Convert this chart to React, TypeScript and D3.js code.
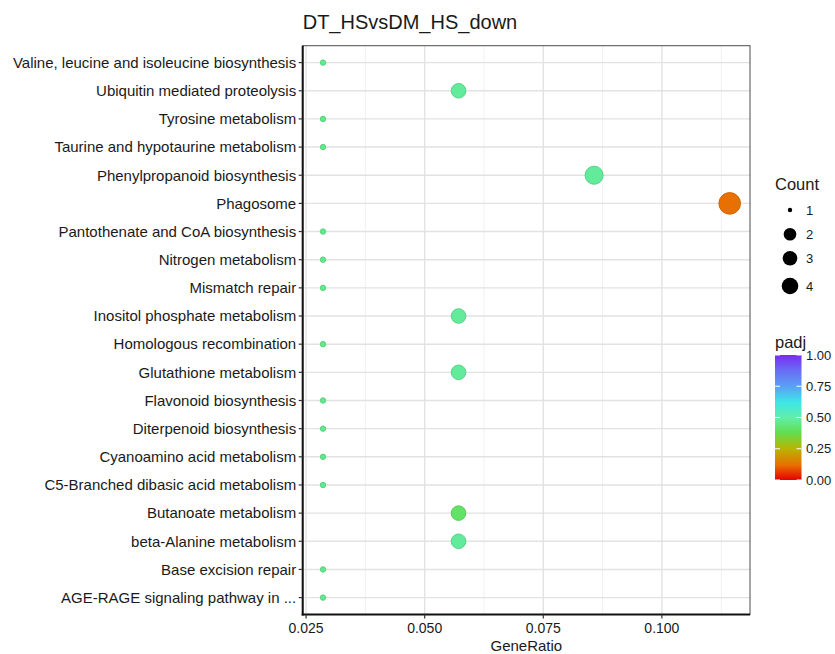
import React from "react";
import * as d3 from "d3";

const pathways = [
  "Valine, leucine and isoleucine biosynthesis",
  "Ubiquitin mediated proteolysis",
  "Tyrosine metabolism",
  "Taurine and hypotaurine metabolism",
  "Phenylpropanoid biosynthesis",
  "Phagosome",
  "Pantothenate and CoA biosynthesis",
  "Nitrogen metabolism",
  "Mismatch repair",
  "Inositol phosphate metabolism",
  "Homologous recombination",
  "Glutathione metabolism",
  "Flavonoid biosynthesis",
  "Diterpenoid biosynthesis",
  "Cyanoamino acid metabolism",
  "C5-Branched dibasic acid metabolism",
  "Butanoate metabolism",
  "beta-Alanine metabolism",
  "Base excision repair",
  "AGE-RAGE signaling pathway in ...",
];
const counts = [1, 2, 1, 1, 3, 4, 1, 1, 1, 2, 1, 2, 1, 1, 1, 1, 2, 2, 1, 1];
const geneRatio = [
  0.02857, 0.05714, 0.02857, 0.02857, 0.08571, 0.11429, 0.02857, 0.02857, 0.02857, 0.05714,
  0.02857, 0.05714, 0.02857, 0.02857, 0.02857, 0.02857, 0.05714, 0.05714, 0.02857, 0.02857,
];
const padj = [
  0.46, 0.48, 0.46, 0.46, 0.48, 0.12, 0.46, 0.46, 0.46, 0.48,
  0.46, 0.48, 0.46, 0.46, 0.46, 0.46, 0.41, 0.48, 0.46, 0.46,
];
const xTicks = [0.025, 0.05, 0.075, 0.1];
const xMinor = [0.0375, 0.0625, 0.0875, 0.1125];
const countLegend = [1, 2, 3, 4];
const padjTicks = [0, 0.25, 0.5, 0.75, 1];
const colorStops = [0, 0.12, 0.25, 0.38, 0.5, 0.62, 0.75, 0.88, 1];
const colorValues = [
  "#E60000", "#E87000", "#B8B400", "#62DE50", "#62EEAA", "#3EE6E6", "#5AA0F5", "#6A6AF5", "#7A2CF5",
];

const FONT = "'Liberation Sans', Arial, Helvetica, sans-serif";

export default function App() {
  const W = 835, H = 654;
  const left = 302.7, right = 750, top = 45.7, bottom = 614.5;

  const x = d3.scaleLinear().domain([0.02429, 0.11857]).range([left, right]);
  const yBand = d3.scalePoint<string>().domain(pathways).range([top, bottom]).padding(0.6);
  const r = d3.scaleLinear().domain([1, 2, 4]).range([2.7, 7.3, 10.8]);
  const rLegend = d3.scaleLinear().domain([1, 2, 4]).range([2.2, 6.3, 8.3]);
  const color = d3.scaleLinear<string>().domain(colorStops).range(colorValues).interpolate(d3.interpolateRgb);

  const cbTop = 355, cbBottom = 480, cbLeft = 775, cbRight = 801.5;
  const cbY = d3.scaleLinear().domain([0, 1]).range([cbBottom, cbTop]);
  const legendY = [210, 234.3, 258.3, 286];

  return (
    <svg width={W} height={H} style={{ position: "absolute", left: 0, top: 0, background: "#fff" }} fontFamily={FONT}>
      <defs>
        <linearGradient id="padjGrad" x1="0" y1="1" x2="0" y2="0">
          {colorStops.map((s, i) => (
            <stop key={i} offset={`${s * 100}%`} stopColor={colorValues[i]} />
          ))}
        </linearGradient>
      </defs>
      <rect x={0} y={0} width={W} height={H} fill="#fff" />
      <text x={left} y={29} textAnchor="start" fontSize={20} fill="#1a1a1a">
        DT_HSvsDM_HS_down
      </text>
      {/* grid */}
      {xMinor.map((t) => (
        <line key={"mn" + t} x1={x(t)} x2={x(t)} y1={top} y2={bottom} stroke="#F0F0F0" strokeWidth={1} />
      ))}
      {xTicks.map((t) => (
        <line key={"mj" + t} x1={x(t)} x2={x(t)} y1={top} y2={bottom} stroke="#E2E2E2" strokeWidth={1.4} />
      ))}
      {pathways.map((p) => (
        <line key={"h" + p} x1={left} x2={right} y1={yBand(p)} y2={yBand(p)} stroke="#E2E2E2" strokeWidth={1.4} />
      ))}
      {/* panel border */}
      <rect x={left} y={top} width={right - left} height={bottom - top} fill="none" stroke="#4d4d4d" strokeWidth={1} />
      <line x1={left} x2={left} y1={top} y2={bottom + 1} stroke="#111" strokeWidth={2} />
      <line x1={left - 1} x2={right} y1={bottom} y2={bottom} stroke="#111" strokeWidth={2} />
      {/* y axis */}
      {pathways.map((p) => (
        <g key={"yl" + p}>
          <line x1={left - 4} x2={left} y1={yBand(p)} y2={yBand(p)} stroke="#333" strokeWidth={1.2} />
          <text x={left - 6.5} y={(yBand(p) as number) + 5.3} textAnchor="end" fontSize={15} fill="#1a1a1a">
            {p}
          </text>
        </g>
      ))}
      {/* x axis */}
      {xTicks.map((t) => (
        <g key={"xt" + t}>
          <line x1={x(t)} x2={x(t)} y1={bottom} y2={bottom + 4} stroke="#333" strokeWidth={1.2} />
          <text x={x(t)} y={633} textAnchor="middle" fontSize={14} fill="#1a1a1a">
            {d3.format(".3f")(t)}
          </text>
        </g>
      ))}
      <text x={(left + right) / 2} y={651} textAnchor="middle" fontSize={15} fill="#1a1a1a">
        GeneRatio
      </text>
      {/* points */}
      {pathways.map((p, i) => {
        const c = color(padj[i]);
        return (
          <circle
            key={"pt" + p}
            cx={x(geneRatio[i])}
            cy={yBand(p)}
            r={r(counts[i])}
            fill={c}
            stroke={d3.color(c)!.darker(0.3).formatHex()}
            strokeWidth={1}
          />
        );
      })}
      {/* Count legend */}
      <text x={775} y={190} fontSize={16.5} fill="#1a1a1a">Count</text>
      {countLegend.map((c, i) => (
        <g key={"cl" + c}>
          <circle cx={790} cy={legendY[i]} r={rLegend(c)} fill="#000" />
          <text x={806} y={legendY[i] + 4.5} fontSize={13} fill="#1a1a1a">{c}</text>
        </g>
      ))}
      {/* padj legend */}
      <text x={775} y={348} fontSize={16.5} fill="#1a1a1a">padj</text>
      <rect x={cbLeft} y={cbTop} width={cbRight - cbLeft} height={cbBottom - cbTop} fill="url(#padjGrad)" />
      {padjTicks.map((t) => (
        <g key={"pt" + t}>
          <line x1={cbLeft} x2={cbLeft + 5} y1={cbY(t)} y2={cbY(t)} stroke="#fff" strokeWidth={1} />
          <line x1={cbRight - 5} x2={cbRight} y1={cbY(t)} y2={cbY(t)} stroke="#fff" strokeWidth={1} />
          <text x={806} y={cbY(t) + 4.5} fontSize={13} fill="#1a1a1a">{d3.format(".2f")(t)}</text>
        </g>
      ))}
    </svg>
  );
}
